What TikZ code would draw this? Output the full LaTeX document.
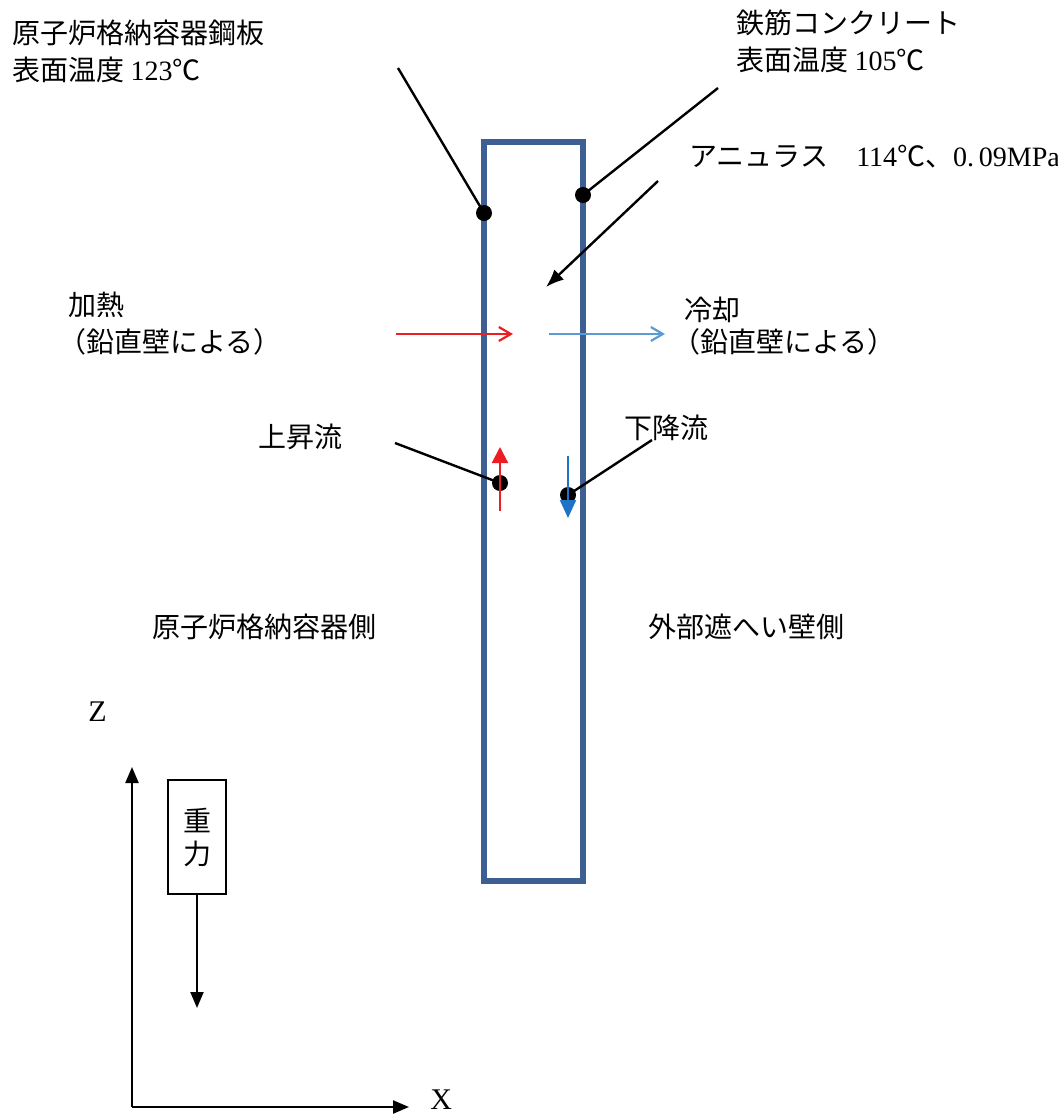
\documentclass[tikz,border=0pt]{standalone}
\usepackage{fontspec}
\setmainfont{Noto Sans CJK JP}
\newfontfamily\lat{Liberation Serif}
\usetikzlibrary{arrows.meta}
\definecolor{wallblue}{RGB}{62,95,145}
\definecolor{coolblue}{RGB}{91,155,213}
\definecolor{flowblue}{RGB}{30,115,200}
\definecolor{heatred}{RGB}{235,30,35}

\begin{document}
\begin{tikzpicture}[x=0.5pt,y=-0.5pt,
    lbl/.style={anchor=west,inner sep=0pt,font=\fontsize{14}{17}\selectfont},
    dot/.style={circle,fill=black,inner sep=0pt,minimum size=8pt},
    leader/.style={line width=1.2pt},
    heat/.style={line width=1.1pt,-{Straight Barb[length=6pt,width=7pt]}}]
        \useasboundingbox (0,0) rectangle (1058,1115);

        %annulus
        \draw[line width=2.6pt,wallblue] (484,142) rectangle (583,881);

        %labels
        \node[lbl] (steel) at (12,33) {原子炉格納容器鋼板};
        \node[lbl] (steeltemp) at (12,70) {表面温度 {\lat 123}℃};
        \node[lbl] (rc) at (736,23) {鉄筋コンクリート};
        \node[lbl] (rctemp) at (736,60) {表面温度 {\lat 105}℃};
        \node[lbl] (annulus) at (689,157) {アニュラス\quad{\lat 114}℃、{\lat 0.\,09MPa}};
        \node[lbl] (heating) at (68,305) {加熱};
        \node[lbl] (heatwall) at (58,342) {（鉛直壁による）};
        \node[lbl] (cooling) at (684,310) {冷却};
        \node[lbl] (coolwall) at (672,342) {（鉛直壁による）};
        \node[lbl] (up) at (258,437) {上昇流};
        \node[lbl] (down) at (624,428) {下降流};
        \node[lbl] (cvside) at (152,627) {原子炉格納容器側};
        \node[lbl] (shside) at (648,627) {外部遮へい壁側};

        %dots
        \node[dot] (steeldot) at (484,213) {};
        \node[dot] (rcdot) at (583,195) {};
        \node[dot] (updot) at (500,483) {};
        \node[dot] (downdot) at (568,495) {};

        %leader lines
        \coordinate (steelend) at (398,68);
        \coordinate (rcend) at (718,88);
        \coordinate (upend) at (395,443);
        \coordinate (downend) at (652,440);
        \draw[leader] (steelend) -- (steeldot.center);
        \draw[leader] (rcend) -- (rcdot.center);
        \draw[leader] (upend) -- (updot.center);
        \draw[leader] (downend) -- (downdot.center);
        \coordinate (annstart) at (658,181);
        \coordinate (annend) at (546,287);
        \draw[leader,-{Latex[length=9pt,width=7pt]}] (annstart) -- (annend);

        %heating and cooling
        \coordinate (heatA) at (396,334);
        \coordinate (heatB) at (513,334);
        \coordinate (coolA) at (549,334);
        \coordinate (coolB) at (665,334);
        \draw[heat,heatred] (heatA) -- (heatB);
        \draw[heat,coolblue] (coolA) -- (coolB);

        %flows
        \coordinate (upA) at (500,511);
        \coordinate (upB) at (500,447);
        \coordinate (downA) at (568,456);
        \coordinate (downB) at (568,518);
        \draw[line width=1.1pt,heatred,-{Triangle[length=8pt,width=8pt]}] (upA) -- (upB);
        \draw[line width=1.1pt,flowblue,-{Triangle[length=9pt,width=8pt]}] (downA) -- (downB);

        %axes
        \coordinate (origin) at (132,1107);
        \coordinate (ztip) at (132,767);
        \coordinate (xtip) at (409,1107);
        \draw[line width=1.1pt,-{Triangle[length=8pt,width=6.5pt]}] (origin) -- (ztip);
        \draw[line width=1.1pt,-{Triangle[length=8pt,width=6.5pt]}] (origin) -- (xtip);
        \node[lbl,font=\lat\fontsize{15}{17}\selectfont] (zlbl) at (88,712) {Z};
        \node[lbl,font=\lat\fontsize{15}{17}\selectfont] (xlbl) at (430,1100) {X};

        %gravity
        \node[draw,line width=0.6pt,minimum width=29pt,minimum height=57pt,inner sep=0pt,
              font=\fontsize{14}{16.5}\selectfont,align=center] (gravity) at (197,837) {重\\力};
        \coordinate (gtip) at (gravity.south |- 0,1008);
        \draw[line width=1.1pt,-{Triangle[length=8pt,width=6.5pt]}] (gravity.south) -- (gtip);
\end{tikzpicture}
\end{document}
